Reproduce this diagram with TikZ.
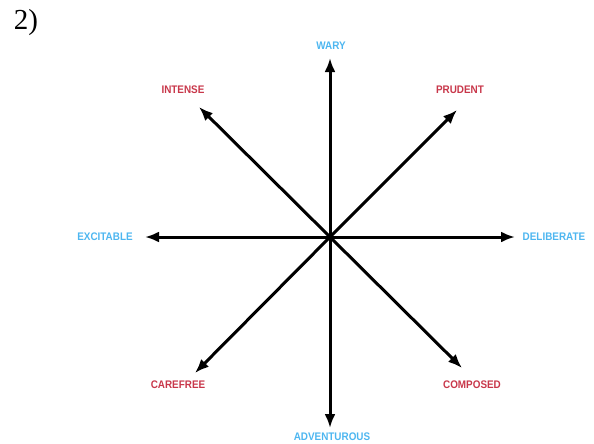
\documentclass[tikz,border=0pt]{standalone}
\usepackage{fontspec}
\setmainfont{Liberation Serif}
\newfontfamily\labelfont[FakeStretch=0.9]{Liberation Sans}
\usetikzlibrary{arrows.meta}
\definecolor{calm}{HTML}{4DB6F0}
\definecolor{tense}{HTML}{C8374A}

\begin{document}
\begin{tikzpicture}[x=1pt, y=-1pt,
  word/.style={font=\labelfont\bfseries\fontsize{11}{12}\selectfont, text=#1, inner sep=1pt},
  arr/.style={-{Latex[length=14pt,width=11pt]}, line width=3pt, black}
]
  \useasboundingbox (0,0) rectangle (594,444);
  \node[font=\fontsize{29}{30}\selectfont, inner sep=0pt] (num) at (26,23) {2)};

  \coordinate (c) at (330,237);
  % arrow ends
  \coordinate (n) at (330,58);
  \coordinate (s) at (330,428);
  \coordinate (w) at (145,237);
  \coordinate (e) at (515,237);
  \coordinate (nw) at (199,107);
  \coordinate (ne) at (457,110);
  \coordinate (sw) at (195,373);
  \coordinate (se) at (462,368);

  \foreach \p in {n,s,w,e,nw,ne,sw,se}
    \draw[arr] (c) -- (\p);

  % labels
  \node[word=calm] (wary) at (331,46) {WARY};
  \node[word=calm] (adv) at (332,437) {ADVENTUROUS};
  \node[word=calm] (exc) at (105,237) {EXCITABLE};
  \node[word=calm] (del) at (554,237) {DELIBERATE};
  \node[word=tense] (int) at (183,90) {INTENSE};
  \node[word=tense] (pru) at (460,90) {PRUDENT};
  \node[word=tense] (care) at (178,385) {CAREFREE};
  \node[word=tense] (comp) at (472,385) {COMPOSED};
\end{tikzpicture}
\end{document}
